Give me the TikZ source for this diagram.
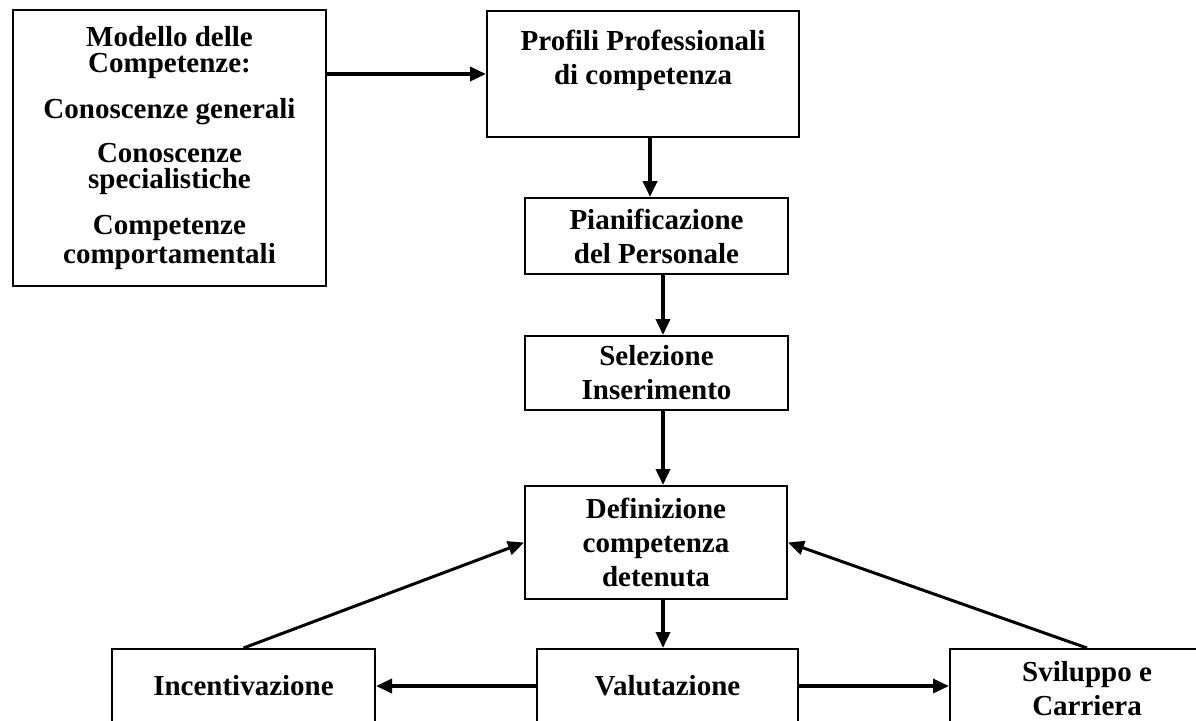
\documentclass[tikz,border=0pt]{standalone}
\usepackage{fontspec}
\setmainfont{Liberation Serif}
\usetikzlibrary{arrows.meta}

\begin{document}
\begin{tikzpicture}[x=0.5pt,y=-0.5pt,
    box/.style={draw,line width=1pt,align=center,inner sep=2pt,
      font=\fontsize{14.5}{17}\selectfont\bfseries},
    arr/.style={-{Triangle[length=8pt,width=7pt]},line width=1.8pt}]
  \useasboundingbox (0,0) rectangle (1196,720);
  \clip (0,0) rectangle (1196,720);
  % left block
  \node[box,minimum width=156.5pt,minimum height=138pt,
    font=\fontsize{14.5}{13}\selectfont\bfseries] (modello) at (169.5,148)
    {Modello delle\\Competenze:\\[9pt]Conoscenze generali\\[9pt]Conoscenze\\specialistiche\\[10pt]Competenze\\comportamentali};
  % central column
  \node[box,minimum width=156pt,minimum height=63pt] (profili) at (643,74)
    {Profili Professionali\\di competenza\\\mbox{}};
  \node[box,minimum width=131.5pt,minimum height=38pt] (piano) at (656.5,236)
    {Pianificazione\\del Personale};
  \node[box,minimum width=131.5pt,minimum height=37pt] (selezione) at (656.5,373)
    {Selezione\\Inserimento};
  \node[box,minimum width=131pt,minimum height=56.5pt] (defin) at (656,542.5)
    {Definizione\\competenza\\detenuta};
  % bottom row
  \node[box,minimum width=130.5pt,minimum height=37pt] (valut) at (667.5,686) {Valutazione};
  \node[box,minimum width=131.5pt,minimum height=37pt] (incent) at (243.5,686) {Incentivazione};
  \node[box,minimum width=137pt,minimum height=40pt] (svil) at (1087,689) {Sviluppo e\\Carriera};
  \path[arr]
    (modello.east |- profili.west) edge (profili.west)
    ([xshift=3.5pt]profili.south) edge[line width=2.4pt] ([xshift=3.5pt]profili.south |- piano.north)
    ([xshift=3.25pt]piano.south) edge ([xshift=3.25pt]selezione.north)
    ([xshift=3.25pt]selezione.south) edge ([xshift=3.25pt]selezione.south |- defin.north)
    ([xshift=3.5pt]defin.south) edge ([xshift=3.5pt]defin.south |- valut.north)
    (valut.west) edge (incent.east)
    (valut.east) edge (valut.east -| svil.west)
    (incent.north) edge[line width=1.5pt] (defin.west)
    (svil.north) edge[line width=1.5pt] (defin.east)
    ; %end path
\end{tikzpicture}
\end{document}
